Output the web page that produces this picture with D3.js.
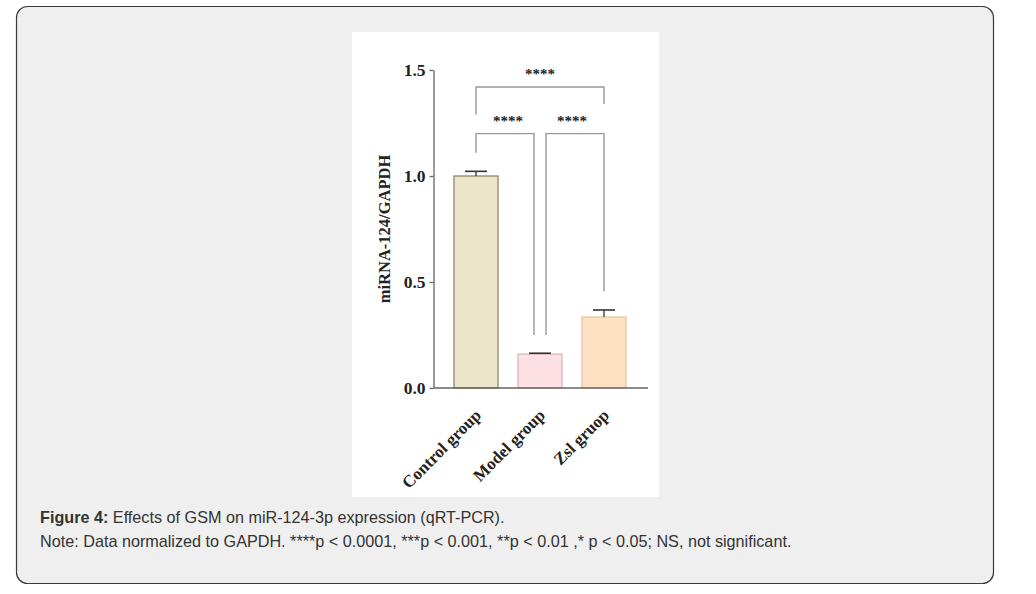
<!DOCTYPE html>
<html>
<head>
<meta charset="utf-8">
<script src="https://cdn.jsdelivr.net/npm/d3@7"></script>
<style>
  body { margin: 0; background: #fff; }
  svg text { font-family: "Liberation Serif", "Times New Roman", serif; }
  .caption { font-family: "Liberation Sans", Arial, sans-serif; font-size: 16.2px; fill: #333; }
</style>
</head>
<body>
<svg id="chart" width="1036" height="594"></svg>
<script>
// Daten des Diagramms
const groups = ["Control group", "Model group", "Zsl gruop"];
const means = [1.0, 0.16, 0.335];
const errors = [0.022, 0.004, 0.033];
const fills = ["#ebe6c9", "#fde0e3", "#fde0c2"];
const strokes = ["#8c8670", "#d8b8bb", "#e9c6a2"];
const yTicks = [0, 0.5, 1.0, 1.5];

// Signifikanz-Klammern: von Gruppe a nach b, Höhe, Endpunkte der Beine
const bracketFrom = [0, 0, 1];
const bracketTo = [2, 1, 2];
const bracketY = [1.42, 1.2, 1.2];
const legLeft = [1.29, 1.11, 0.25];
const legRight = [1.34, 0.25, 0.455];
const bracketLabel = ["****", "****", "****"];

const svg = d3.select("#chart");

// Rahmen mit runden Ecken
svg.append("rect")
  .attr("x", 16.5).attr("y", 6.5)
  .attr("width", 977).attr("height", 577)
  .attr("rx", 11).attr("ry", 11)
  .attr("fill", "#efefef")
  .attr("stroke", "#3a3a3a")
  .attr("stroke-width", 1.2);

// weisse Bildfläche
svg.append("rect")
  .attr("x", 352).attr("y", 32)
  .attr("width", 307).attr("height", 465)
  .attr("fill", "#fff");

// Skalen
const y = d3.scaleLinear().domain([0, 1.5]).range([388, 70]);
const x = d3.scaleBand().domain(groups).range([434, 646]).paddingInner(0.3125).paddingOuter(0.3125);
const cx = function(i) { return x(groups[i]) + x.bandwidth() / 2; };

const g = svg.append("g");

// Balken
g.selectAll("rect.bar")
  .data(groups)
  .enter()
  .append("rect")
  .attr("class", "bar")
  .attr("x", d => x(d))
  .attr("y", (d, i) => y(means[i]))
  .attr("width", x.bandwidth())
  .attr("height", (d, i) => y(0) - y(means[i]))
  .attr("fill", (d, i) => fills[i])
  .attr("stroke", (d, i) => strokes[i])
  .attr("stroke-width", 1.3);

// Fehlerbalken
const err = g.selectAll("g.err")
  .data(groups)
  .enter()
  .append("g")
  .attr("class", "err");
err.append("line")
  .attr("x1", (d, i) => cx(i)).attr("x2", (d, i) => cx(i))
  .attr("y1", (d, i) => y(means[i])).attr("y2", (d, i) => y(means[i] + errors[i]))
  .attr("stroke", "#333").attr("stroke-width", 1.3);
err.append("line")
  .attr("x1", (d, i) => cx(i) - 11).attr("x2", (d, i) => cx(i) + 11)
  .attr("y1", (d, i) => y(means[i] + errors[i])).attr("y2", (d, i) => y(means[i] + errors[i]))
  .attr("stroke", "#333").attr("stroke-width", 1.6);

// Y-Achse
const yAxis = g.append("g")
  .attr("transform", "translate(433.5,0)")
  .call(d3.axisLeft(y).tickValues(yTicks).tickFormat(d3.format(".1f")).tickSize(4).tickSizeOuter(0));
yAxis.select(".domain").attr("stroke", "#666").attr("stroke-width", 1.3);
yAxis.selectAll(".tick line").attr("stroke", "#666").attr("stroke-width", 1.3);
yAxis.selectAll(".tick text")
  .attr("x", -8)
  .style("font-family", "Liberation Serif, serif")
  .style("font-size", "17.5px")
  .style("font-weight", "bold")
  .attr("fill", "#222");

// X-Achse
g.append("line")
  .attr("x1", 433.5).attr("x2", 648)
  .attr("y1", y(0)).attr("y2", y(0))
  .attr("stroke", "#666").attr("stroke-width", 1.3);

// X-Beschriftungen, gedreht
g.selectAll("text.xlab")
  .data(groups)
  .enter()
  .append("text")
  .attr("class", "xlab")
  .attr("transform", (d, i) => `translate(${cx(i) + 2},${y(0) + 24}) rotate(-45)`)
  .attr("text-anchor", "end")
  .attr("dy", "0.35em")
  .style("font-size", "17px")
  .style("font-weight", "bold")
  .attr("fill", "#222")
  .text(d => d);

// Y-Achsentitel
g.append("text")
  .attr("transform", `translate(390,${y(0.75)}) rotate(-90)`)
  .attr("text-anchor", "middle")
  .style("font-size", "16.5px")
  .style("font-weight", "bold")
  .attr("fill", "#222")
  .text("miRNA-124/GAPDH");

// Klammern (benachbarte Klammern am gemeinsamen Balken leicht versetzt)
const gap = 6;
const br = g.selectAll("g.bracket")
  .data(bracketY)
  .enter()
  .append("g")
  .attr("class", "bracket");
br.append("path")
  .attr("d", (d, i) => {
    let x0 = cx(bracketFrom[i]), x1 = cx(bracketTo[i]);
    if (bracketTo[i] - bracketFrom[i] === 1) {
      if (bracketFrom[i] > 0) x0 += gap;
      if (bracketTo[i] < groups.length - 1) x1 -= gap;
    }
    return `M${x0},${y(legLeft[i])}V${y(d)}H${x1}V${y(legRight[i])}`;
  })
  .attr("fill", "none")
  .attr("stroke", "#999")
  .attr("stroke-width", 1.4);
br.append("text")
  .attr("x", (d, i) => (cx(bracketFrom[i]) + cx(bracketTo[i])) / 2)
  .attr("y", d => y(d) - 8)
  .attr("text-anchor", "middle")
  .style("font-size", "15px")
  .style("font-weight", "bold")
  .attr("fill", "#222")
  .text((d, i) => bracketLabel[i]);

// Bildunterschrift
const cap = svg.append("text")
  .attr("class", "caption")
  .attr("x", 40).attr("y", 523);
cap.append("tspan").style("font-weight", "bold").text("Figure 4:");
cap.append("tspan").text(" Effects of GSM on miR-124-3p expression (qRT-PCR).");

svg.append("text")
  .attr("class", "caption")
  .attr("x", 40).attr("y", 547)
  .text("Note: Data normalized to GAPDH. ****p < 0.0001, ***p < 0.001, **p < 0.01 ,* p < 0.05; NS, not significant.");
</script>
</body>
</html>
